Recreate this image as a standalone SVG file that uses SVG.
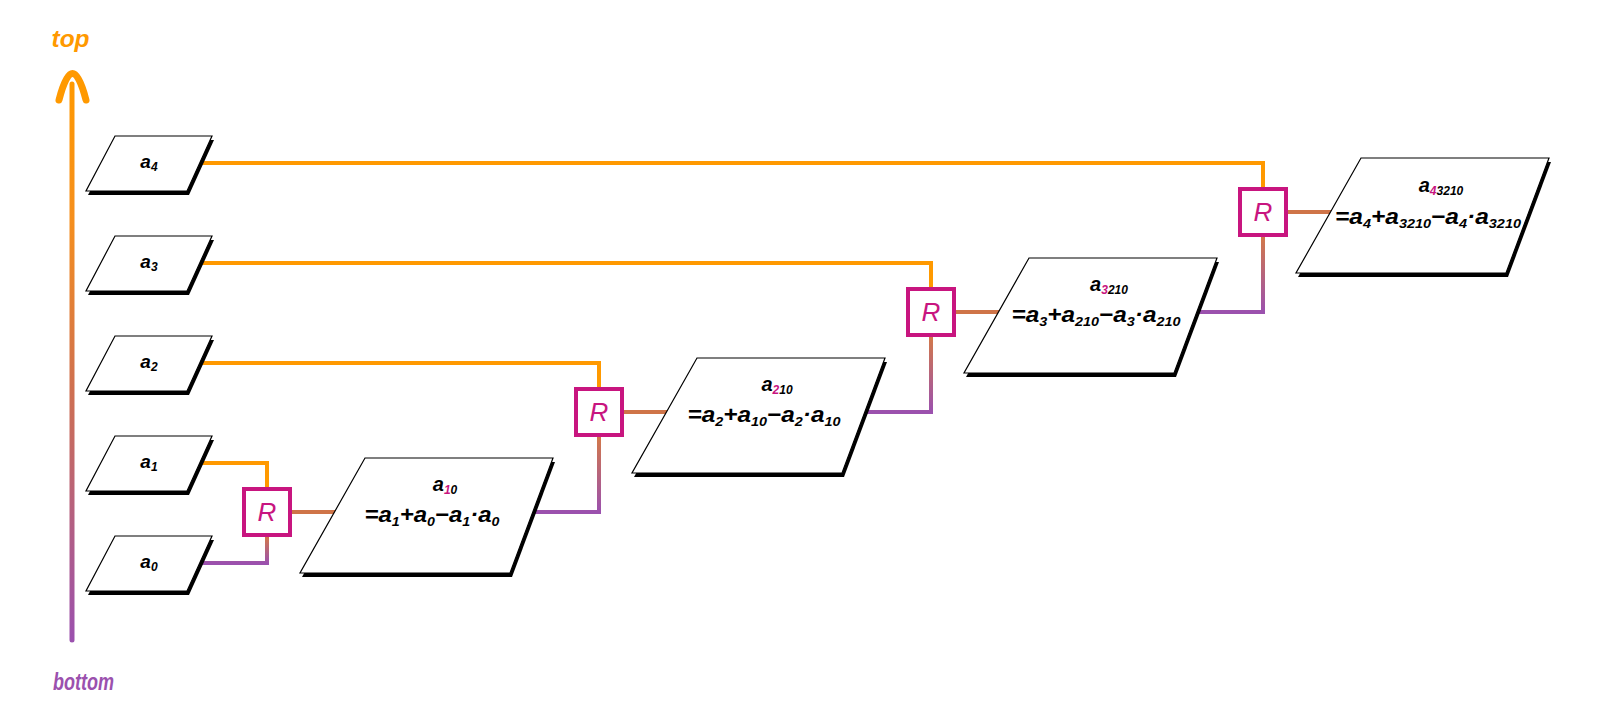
<svg xmlns="http://www.w3.org/2000/svg" width="1600" height="725" viewBox="0 0 1600 725">
<style>
.t{font-family:"Liberation Sans",Arial,sans-serif;font-weight:bold;font-style:italic;fill:#000}
.sm{font-size:19px}
.sub{font-size:12px}
.ti{font-size:20px}
.fo{font-size:22px}
.fs{font-size:13px}
.hi{fill:#C8157F}
.box{fill:#fff;stroke:#000;stroke-width:1.2}
.sh{fill:#000}
.rb{fill:#fff;stroke:#C8157F;stroke-width:4}
.rt{font-family:"Liberation Sans",Arial,sans-serif;font-style:italic;font-size:26px;fill:#C8157F}
.c{fill:none;stroke-width:4;stroke-linejoin:miter}
.or{stroke:#FF9900}
.br{stroke:#CF7448}
</style>
<defs>
<linearGradient id="ax" gradientUnits="userSpaceOnUse" x1="0" y1="80" x2="0" y2="640">
<stop offset="0" stop-color="#FF9900"/><stop offset="0.25" stop-color="#F58F1E"/><stop offset="0.55" stop-color="#CF7050"/><stop offset="1" stop-color="#9B51AE"/>
</linearGradient>
<linearGradient id="g0" gradientUnits="userSpaceOnUse" x1="0" y1="537" x2="0" y2="563"><stop offset="0" stop-color="#D2784A"/><stop offset="1" stop-color="#9B51AE"/></linearGradient>
<linearGradient id="g1" gradientUnits="userSpaceOnUse" x1="0" y1="437" x2="0" y2="512"><stop offset="0" stop-color="#D2784A"/><stop offset="1" stop-color="#9B51AE"/></linearGradient>
<linearGradient id="g2" gradientUnits="userSpaceOnUse" x1="0" y1="337" x2="0" y2="412"><stop offset="0" stop-color="#D2784A"/><stop offset="1" stop-color="#9B51AE"/></linearGradient>
<linearGradient id="g3" gradientUnits="userSpaceOnUse" x1="0" y1="237" x2="0" y2="312"><stop offset="0" stop-color="#D2784A"/><stop offset="1" stop-color="#9B51AE"/></linearGradient>
</defs>
<rect width="1600" height="725" fill="#fff"/>

<g id="axis">
<text x="70.5" y="47" font-family="'Liberation Sans',Arial,sans-serif" font-weight="bold" font-style="italic" font-size="23" fill="#FF9900" text-anchor="middle" textLength="38" lengthAdjust="spacingAndGlyphs">top</text>
<path d="M72,640 V84" fill="none" stroke="url(#ax)" stroke-width="5" stroke-linecap="round"/>
<path d="M59,100 Q72.5,47 86,100" fill="none" stroke="#FF9900" stroke-width="7" stroke-linecap="round"/>
<text x="83.5" y="690" font-family="'Liberation Sans',Arial,sans-serif" font-weight="bold" font-style="italic" font-size="24" fill="#9B51AE" text-anchor="middle" textLength="61" lengthAdjust="spacingAndGlyphs">bottom</text>
</g>

<g id="connectors">
<path class="c or" d="M195,463 H267 V487"/>
<path class="c or" d="M195,363 H599 V387"/>
<path class="c or" d="M195,263 H931 V287"/>
<path class="c or" d="M195,163 H1263 V187"/>
<path class="c" stroke="url(#g0)" d="M195,563 H267 V537"/>
<path class="c" stroke="url(#g1)" d="M528,512 H599 V437"/>
<path class="c" stroke="url(#g2)" d="M860,412 H931 V337"/>
<path class="c" stroke="url(#g3)" d="M1192,312 H1263 V237"/>
<path class="c br" d="M292,512 H340"/>
<path class="c br" d="M624,412 H672"/>
<path class="c br" d="M956,312 H1004"/>
<path class="c br" d="M1288,212 H1336"/>
</g>

<g id="node-a4">
<polygon class="sh" points="117,140 214,140 189,195 88,195"/>
<polygon class="box" points="115,136 212,136 187,191 86,191"/>
<text class="t sm" x="149" y="168" text-anchor="middle">a<tspan class="sub" dy="3">4</tspan></text>
</g>
<g id="node-a3">
<polygon class="sh" points="117,240 214,240 189,295 88,295"/>
<polygon class="box" points="115,236 212,236 187,291 86,291"/>
<text class="t sm" x="149" y="268" text-anchor="middle">a<tspan class="sub" dy="3">3</tspan></text>
</g>
<g id="node-a2">
<polygon class="sh" points="117,340 214,340 189,395 88,395"/>
<polygon class="box" points="115,336 212,336 187,391 86,391"/>
<text class="t sm" x="149" y="368" text-anchor="middle">a<tspan class="sub" dy="3">2</tspan></text>
</g>
<g id="node-a1">
<polygon class="sh" points="117,440 214,440 189,495 88,495"/>
<polygon class="box" points="115,436 212,436 187,491 86,491"/>
<text class="t sm" x="149" y="468" text-anchor="middle">a<tspan class="sub" dy="3">1</tspan></text>
</g>
<g id="node-a0">
<polygon class="sh" points="117,540 214,540 189,595 88,595"/>
<polygon class="box" points="115,536 212,536 187,591 86,591"/>
<text class="t sm" x="149" y="568" text-anchor="middle">a<tspan class="sub" dy="3">0</tspan></text>
</g>

<g id="R1">
<rect class="rb" x="244" y="489" width="46" height="46"/>
<text class="rt" x="267" y="521" text-anchor="middle">R</text>
</g>
<g id="R2">
<rect class="rb" x="576" y="389" width="46" height="46"/>
<text class="rt" x="599" y="421" text-anchor="middle">R</text>
</g>
<g id="R3">
<rect class="rb" x="908" y="289" width="46" height="46"/>
<text class="rt" x="931" y="321" text-anchor="middle">R</text>
</g>
<g id="R4">
<rect class="rb" x="1240" y="189" width="46" height="46"/>
<text class="rt" x="1263" y="221" text-anchor="middle">R</text>
</g>

<g id="node-a10">
<polygon class="sh" points="367,462 555,462 512,577 302,577"/>
<polygon class="box" points="365,458 553,458 510,573 300,573"/>
<text class="t ti" x="445" y="491" text-anchor="middle">a<tspan class="sub hi" dy="3">1</tspan><tspan class="sub">0</tspan></text>
<text class="t fo" x="432" y="522" text-anchor="middle" textLength="135" lengthAdjust="spacingAndGlyphs">=a<tspan class="fs" dy="4">1</tspan><tspan dy="-4">+a</tspan><tspan class="fs" dy="4">0</tspan><tspan dy="-4">−a</tspan><tspan class="fs" dy="4">1</tspan><tspan dy="-4">·a</tspan><tspan class="fs" dy="4">0</tspan></text>
</g>
<g id="node-a210">
<polygon class="sh" points="699,362 887,362 844,477 634,477"/>
<polygon class="box" points="697,358 885,358 842,473 632,473"/>
<text class="t ti" x="777" y="391" text-anchor="middle">a<tspan class="sub hi" dy="3">2</tspan><tspan class="sub">10</tspan></text>
<text class="t fo" x="764" y="422" text-anchor="middle" textLength="153" lengthAdjust="spacingAndGlyphs">=a<tspan class="fs" dy="4">2</tspan><tspan dy="-4">+a</tspan><tspan class="fs" dy="4">10</tspan><tspan dy="-4">−a</tspan><tspan class="fs" dy="4">2</tspan><tspan dy="-4">·a</tspan><tspan class="fs" dy="4">10</tspan></text>
</g>
<g id="node-a3210">
<polygon class="sh" points="1031,262 1219,262 1176,377 966,377"/>
<polygon class="box" points="1029,258 1217,258 1174,373 964,373"/>
<text class="t ti" x="1109" y="291" text-anchor="middle">a<tspan class="sub hi" dy="3">3</tspan><tspan class="sub">210</tspan></text>
<text class="t fo" x="1096" y="322" text-anchor="middle" textLength="169" lengthAdjust="spacingAndGlyphs">=a<tspan class="fs" dy="4">3</tspan><tspan dy="-4">+a</tspan><tspan class="fs" dy="4">210</tspan><tspan dy="-4">−a</tspan><tspan class="fs" dy="4">3</tspan><tspan dy="-4">·a</tspan><tspan class="fs" dy="4">210</tspan></text>
</g>
<g id="node-a43210">
<polygon class="sh" points="1363,162 1551,162 1508,277 1298,277"/>
<polygon class="box" points="1361,158 1549,158 1506,273 1296,273"/>
<text class="t ti" x="1441" y="192" text-anchor="middle">a<tspan class="sub hi" dy="3">4</tspan><tspan class="sub">3210</tspan></text>
<text class="t fo" x="1428" y="224" text-anchor="middle" textLength="186" lengthAdjust="spacingAndGlyphs">=a<tspan class="fs" dy="4">4</tspan><tspan dy="-4">+a</tspan><tspan class="fs" dy="4">3210</tspan><tspan dy="-4">−a</tspan><tspan class="fs" dy="4">4</tspan><tspan dy="-4">·a</tspan><tspan class="fs" dy="4">3210</tspan></text>
</g>
</svg>
